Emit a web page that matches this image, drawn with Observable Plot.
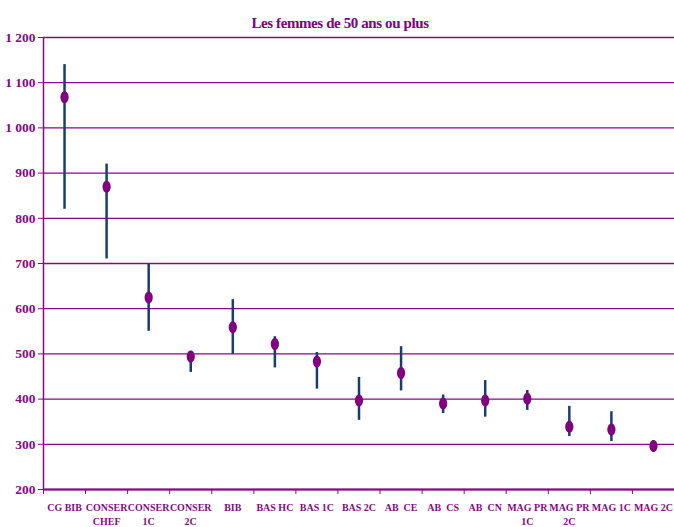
<!DOCTYPE html>
<html><head><meta charset="utf-8">
<script src="https://cdn.jsdelivr.net/npm/d3@7"></script>
<script src="https://cdn.jsdelivr.net/npm/@observablehq/plot@0.6"></script>
<style>
body{margin:0;background:#fff;}
#title{height:30px;line-height:46px;text-align:center;font-family:"Liberation Serif",serif;font-weight:bold;font-size:15px;color:#800080;padding-left:6px;letter-spacing:-0.4px;}
</style></head><body>
<div id="title">Les femmes de 50 ans ou plus</div>
<div id="chart"></div>
<script>
const categories = ["CG BIB","CONSER\nCHEF","CONSER\n1C","CONSER\n2C","BIB","BAS HC","BAS 1C","BAS 2C","AB  CE","AB  CS","AB  CN","MAG PR\n1C","MAG PR\n2C","MAG 1C","MAG 2C"];
const means = [1068, 870, 625, 494, 559, 522, 483, 397, 458, 390, 397, 401, 339, 333, 296];
const lows  = [820, 710, 550, 459, 499, 469, 422, 353, 418, 368, 360, 375, 317, 306, 292];
const highs = [1140, 920, 698, 500, 620, 538, 503, 448, 516, 409, 441, 419, 384, 372, 300];
const yTicks = [200,300,400,500,600,700,800,900,1000,1100,1200];

const data = categories.map((c,i)=>({i, pos:i+0.5, cat:c, mean:means[i], low:lows[i], high:highs[i]}));

const ellipse = {
  draw(ctx, size) {
    const r = Math.sqrt(size/Math.PI), rx = r*0.68, ry = r, k = 0.5523;
    ctx.moveTo(rx,0);
    ctx.bezierCurveTo(rx, ry*k, rx*k, ry, 0, ry);
    ctx.bezierCurveTo(-rx*k, ry, -rx, ry*k, -rx, 0);
    ctx.bezierCurveTo(-rx, -ry*k, -rx*k, -ry, 0, -ry);
    ctx.bezierCurveTo(rx*k, -ry, rx, -ry*k, rx, 0);
    ctx.closePath();
  }
};

const purple = "#850a85";
const chart = Plot.plot({
  width: 674, height: 497,
  marginLeft: 43, marginRight: 0, marginTop: 7, marginBottom: 38,
  style: {fontFamily: "Liberation Serif, serif", fontWeight: "bold", color: purple, background: "#fff"},
  x: {type: "linear", domain: [0, categories.length], axis: null, label: null},
  y: {domain: [200, 1200], axis: null, label: null},
  marks: [
    Plot.ruleY(yTicks, {stroke: purple, strokeWidth: 1.3}),
    Plot.axisY({ticks: yTicks, tickSize: 5, tickPadding: 3, stroke: purple, fill: purple, fontSize: 13.5, label: null, tickFormat: d => d3.format(",")(d).replace(",", " ")}),
    Plot.ruleX([0], {stroke: purple, strokeWidth: 1.5}),
    Plot.ruleY([200], {stroke: purple, strokeWidth: 2}),
    Plot.axisX({ticks: d3.range(categories.length + 1), tickSize: 5, stroke: purple, label: null, tickFormat: () => ""}),
    Plot.axisX({ticks: data.map(d => d.pos), tickSize: 0, tickPadding: 12, fill: purple, fontSize: 10, lineHeight: 1.35, label: null, tickFormat: p => categories[Math.floor(p)]}),
    Plot.ruleX(data, {x: "pos", y1: "low", y2: "high", stroke: "#163f6e", strokeWidth: 2.5}),
    Plot.dot(data, {x: "pos", y: "mean", r: 6, symbol: ellipse, fill: "#800080", stroke: "none"})
  ]
});
document.getElementById("chart").appendChild(chart);
</script>
</body></html>
